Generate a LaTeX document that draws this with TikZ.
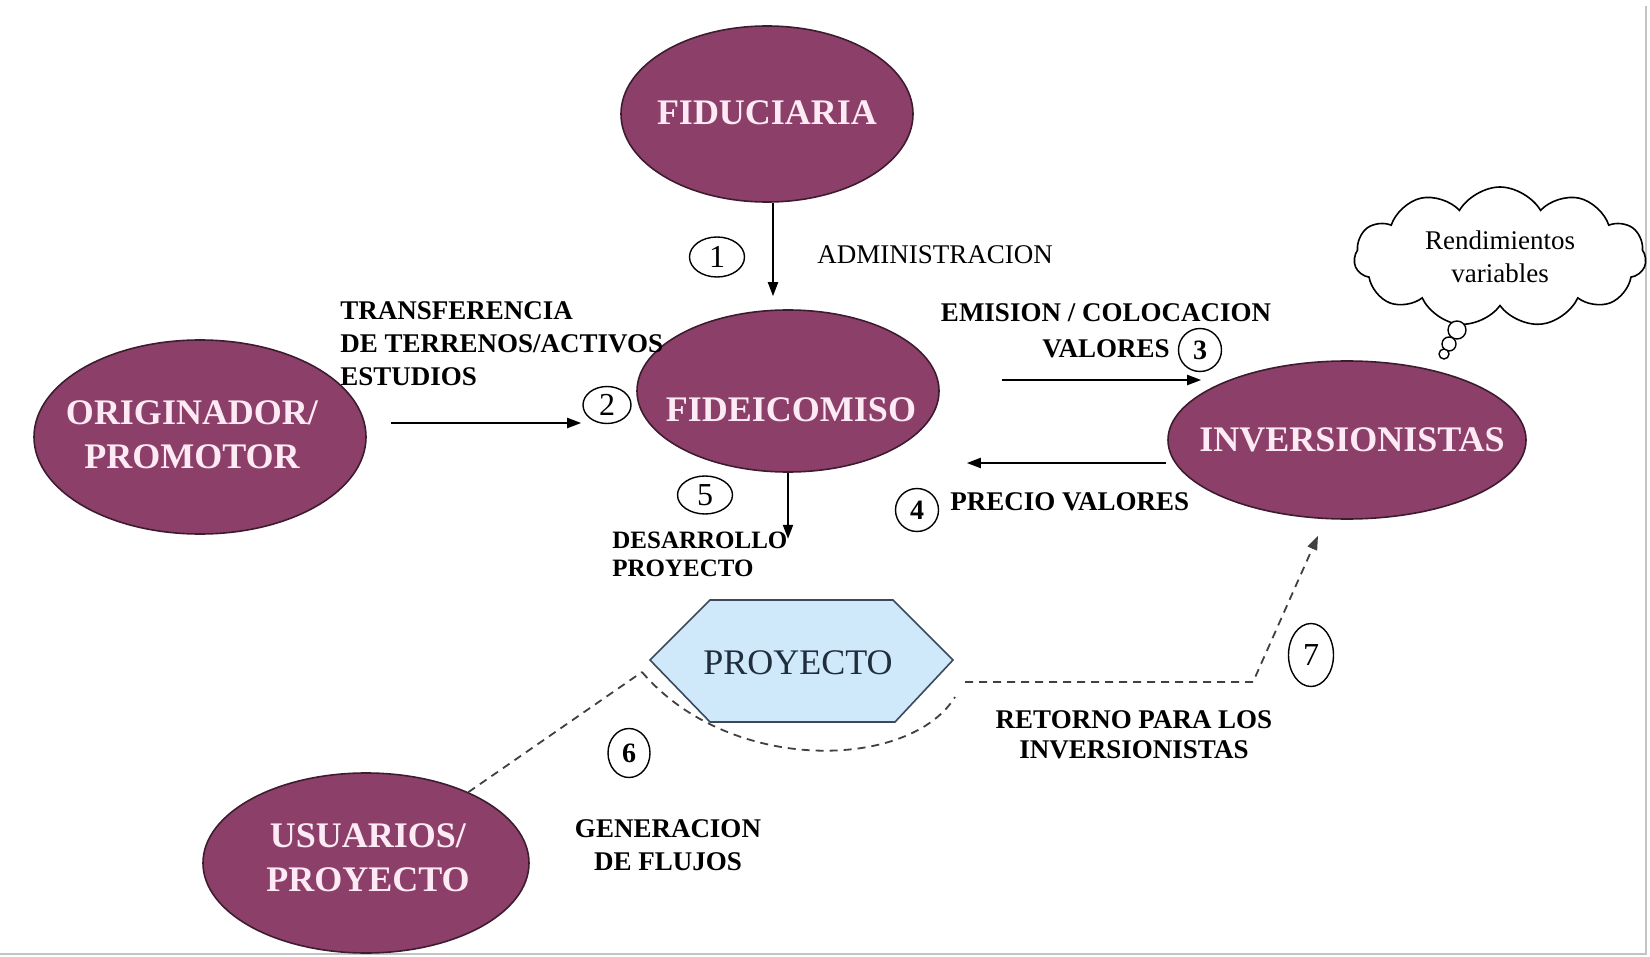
\documentclass[tikz,border=0pt]{standalone}
\usepackage{fontspec}
\setmainfont{Liberation Serif}
\usetikzlibrary{shapes.geometric,shapes.symbols,arrows.meta,calc}
\definecolor{ovalfill}{HTML}{8C4069}
\definecolor{ovalline}{HTML}{3E1C2F}
\definecolor{ovaltxt}{HTML}{FDEAF4}
\definecolor{hexfill}{HTML}{CFE9FA}
\definecolor{hexline}{HTML}{3A4A5C}
\definecolor{hextxt}{HTML}{1F2D3D}
\definecolor{framegray}{HTML}{C4C4C4}
\tikzset{
  oval/.style={ellipse, draw=ovalline, fill=ovalfill, line width=0.8pt, inner sep=0pt},
  ovaltext/.style={text=ovaltxt, font=\bfseries\fontsize{18}{22}\selectfont, align=center, inner sep=0pt},
  lbl/.style={font=\bfseries\fontsize{13.5}{16.5}\selectfont, inner sep=0pt},
  num/.style={ellipse, draw, line width=0.7pt, inner sep=0pt, font=\fontsize{16}{16}\selectfont},
  bnum/.style={num, font=\bfseries\fontsize{14}{14}\selectfont},
  arr/.style={line width=1pt, -{Triangle[length=7pt,width=5pt]}},
  dsh/.style={line width=0.9pt, dash pattern=on 4pt off 3pt, draw=black!75},
}
\begin{document}
\begin{tikzpicture}[x=0.5pt,y=-0.5pt]
\useasboundingbox (0,0) rectangle (1650,957);
\fill[white] (0,0) rectangle (1650,957);
\draw[framegray, line width=1pt] (1646,6) -- (1646,954) -- (0,954);

% ovals
\node[oval, minimum width=146pt, minimum height=88pt] (fid) at (767,114) {};
\node[ovaltext] (fidt) at (767,113) {FIDUCIARIA};
\node[oval, minimum width=151pt, minimum height=81pt] (fdc) at (788,391) {};
\node[ovaltext] (fdct) at (791,410) {FIDEICOMISO};
\node[oval, minimum width=166pt, minimum height=97pt] (org) at (200,437) {};
\node[ovaltext] (orgt) at (192,435) {ORIGINADOR/\\PROMOTOR};
\node[oval, minimum width=179pt, minimum height=79pt] (inv) at (1347,440) {};
\node[ovaltext] (invt) at (1352,440) {INVERSIONISTAS};
\node[oval, minimum width=163pt, minimum height=90pt] (usu) at (366,863) {};
\node[ovaltext] (usut) at (368,858) {USUARIOS/\\PROYECTO};

% hexagon
\coordinate (hW) at (650,660);
\coordinate (hNW) at (710,600);
\coordinate (hNE) at (893,600);
\coordinate (hE) at (953,660);
\coordinate (hSE) at (895,722);
\coordinate (hSW) at (710,722);
\draw[fill=hexfill, draw=hexline, line width=0.8pt] (hW) -- (hNW) -- (hNE) -- (hE) -- (hSE) -- (hSW) -- cycle;
\node[text=hextxt, font=\fontsize{18}{22}\selectfont, inner sep=0pt] (proj) at (798,663) {PROYECTO};

% cloud
\node[cloud, draw, fill=white, cloud puffs=11, cloud puff arc=120, cloud ignores aspect,
      minimum width=146pt, minimum height=70pt, line width=0.8pt, align=center,
      font=\fontsize{13.5}{16.5}\selectfont, inner sep=0pt] (cloud) at (1500,257) {Rendimientos\\variables};
\node[circle, draw, fill=white, line width=0.7pt, minimum size=9pt, inner sep=0pt] (b1) at (1457,330) {};
\node[circle, draw, fill=white, line width=0.7pt, minimum size=7pt, inner sep=0pt] (b2) at (1449,344) {};
\node[circle, draw, fill=white, line width=0.7pt, minimum size=5pt, inner sep=0pt] (b3) at (1444,354) {};

% numbers
\node[num, minimum width=27.5pt, minimum height=20pt] (n1) at (717,257) {1};
\node[num, minimum width=24pt, minimum height=18.5pt] (n2) at (607,405) {2};
\node[bnum, minimum width=21.5pt, minimum height=21.5pt] (n3) at (1200,350) {3};
\node[bnum, minimum width=21.5pt, minimum height=21.5pt] (n4) at (917,510) {4};
\node[num, minimum width=27.5pt, minimum height=19pt] (n5) at (705,495) {5};
\node[bnum, minimum width=21pt, minimum height=24.5pt] (n6) at (629,753) {6};
\node[num, minimum width=22.5pt, minimum height=31.5pt] (n7) at (1311,655) {7};

% labels
\node[font=\fontsize{13.5}{16.5}\selectfont, inner sep=0pt, anchor=west] (adm) at (817,255) {ADMINISTRACION};
\node[lbl, align=left, anchor=north west] (trf) at (340,301) {TRANSFERENCIA\\DE TERRENOS/ACTIVOS\\ESTUDIOS};
\node[lbl, align=center, anchor=north, font=\bfseries\fontsize{13.5}{18}\selectfont] (emi) at (1106,303) {EMISION / COLOCACION\\VALORES};
\node[lbl, anchor=west] (pre) at (950,502) {PRECIO VALORES};
\node[lbl, align=left, anchor=north west, font=\bfseries\fontsize{12.5}{14}\selectfont] (des) at (612,532) {DESARROLLO\\PROYECTO};
\node[lbl, align=center, anchor=north, font=\bfseries\fontsize{13.5}{15}\selectfont] (ret) at (1134,710) {RETORNO PARA LOS\\INVERSIONISTAS};
\node[lbl, align=center, anchor=north] (gen) at (668,819) {GENERACION\\DE FLUJOS};

% arrows
\draw[arr] ($(fid.south)+(6,0)$) -- ($(fdc.north)+(-15,-13)$);
\draw[arr] ($(org.east)+(24,-14)$) -- ($(fdc.west)+(-55,32)$);
\draw[arr] ($(fdc.east)+(62,-11)$) -- ($(inv.west)+(34,-60)$);
\draw[arr] ($(inv.west)+(-1,23)$) -- ($(fdc.east)+(27,72)$);
\draw[arr] (fdc.south) -- ($(fdc.south)+(0,66)$);

% dashed flows
\coordinate (j6) at ($(hW)+(-8,12)$);
\coordinate (e7) at (955,697);
\coordinate (k7) at (1253,682);
\draw[dsh] (usu) -- (j6);
\draw[dsh] (j6) .. controls (730,775) and (910,770) .. (e7);
\draw[dsh, -{Triangle[length=7pt,width=5pt]}] ($(e7)+(10,-15)$) -- (k7) -- ($(inv.south)+(-29,16)$);
\end{tikzpicture}
\end{document}
